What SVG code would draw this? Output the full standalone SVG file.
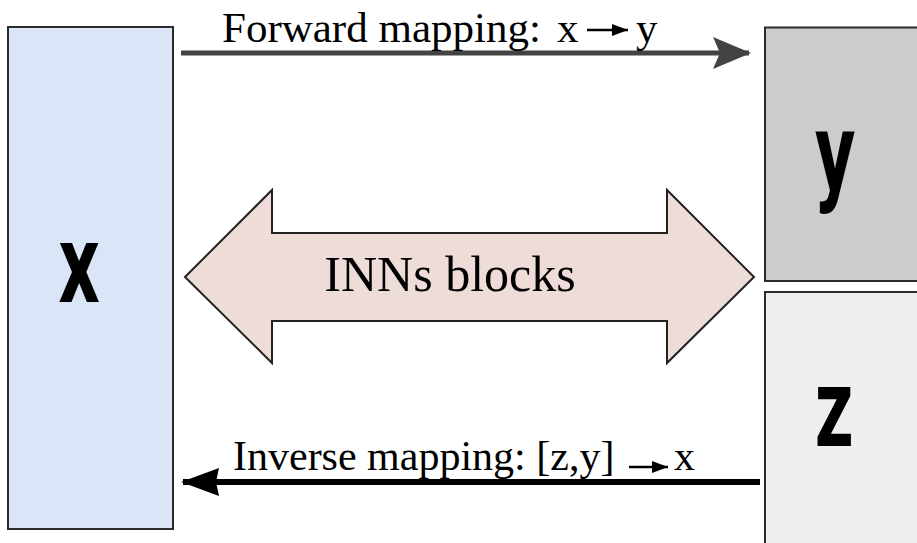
<svg xmlns="http://www.w3.org/2000/svg" width="917" height="543" viewBox="0 0 917 543">
<style>
.box{stroke:#2b2b2b;stroke-width:2}
.lbl{font-family:"Liberation Serif","Times New Roman",serif;font-size:43px;fill:#000}
.inv{font-size:42px}
.big{font-family:Roboto,"DejaVu Sans",sans-serif;font-weight:bold;font-size:112px;fill:#000}
</style>
<defs>
<marker id="stealth" viewBox="0 0 38 34" refX="36" refY="17" markerWidth="38" markerHeight="34" markerUnits="userSpaceOnUse" orient="auto">
<path d="M0,1 L38,17 L0,33 L7,17 Z" fill="#434343"/>
</marker>
<marker id="tri" viewBox="0 0 38 28" refX="36" refY="14" markerWidth="38" markerHeight="28" markerUnits="userSpaceOnUse" orient="auto">
<path d="M0,0 L38,14 L0,28 L3,14 Z" fill="#000"/>
</marker>
<marker id="small" viewBox="0 0 16 12" refX="16" refY="6" markerWidth="16" markerHeight="12" markerUnits="userSpaceOnUse" orient="auto">
<path d="M0,0 L16,6 L0,12 Z" fill="#000"/>
</marker>
</defs>
<g id="node-x">
<rect class="box" x="8" y="27" width="165" height="502" fill="#dae5f8"/>
<text class="big" x="0" y="0" text-anchor="middle" transform="translate(79,302) scale(0.72,1)">x</text>
</g>
<g id="node-y">
<rect class="box" x="765" y="27.5" width="170" height="253.5" fill="#cccccc"/>
<text class="big" x="0" y="0" text-anchor="middle" transform="translate(835,190) scale(0.7,1)">y</text>
</g>
<g id="node-z">
<rect class="box" x="765" y="292" width="170" height="270" fill="#efefef"/>
<text class="big" x="0" y="0" text-anchor="middle" transform="translate(834,446) scale(0.68,1)">z</text>
</g>
<g id="node-inn">
<polygon points="185,277 272,190 272,233 667,233 667,190 754,277 667,363 667,321 272,321 272,363" fill="#eedcd9" stroke="#222" stroke-width="2" stroke-linejoin="miter"/>
<text x="450" y="291" text-anchor="middle" font-family="Liberation Serif,Times New Roman,serif" font-size="50" fill="#000">INNs blocks</text>
</g>
<g id="connectors">
<line x1="181" y1="53" x2="749" y2="53" stroke="#434343" stroke-width="5" marker-end="url(#stealth)"/>
<line x1="760" y1="482" x2="183" y2="482" stroke="#000" stroke-width="6" marker-end="url(#tri)"/>
</g>
<g id="labels">
<text class="lbl" x="222" y="42">Forward mapping:</text>
<text class="lbl" x="557" y="42">x</text>
<line x1="587" y1="30" x2="628" y2="30" stroke="#000" stroke-width="2.5" marker-end="url(#small)"/>
<text class="lbl" x="636" y="42">y</text>
<text class="lbl inv" x="233" y="470">Inverse mapping: [z,y]</text>
<line x1="629" y1="467" x2="668" y2="467" stroke="#000" stroke-width="2.5" marker-end="url(#small)"/>
<text class="lbl inv" x="674" y="470">x</text>
</g>
</svg>
